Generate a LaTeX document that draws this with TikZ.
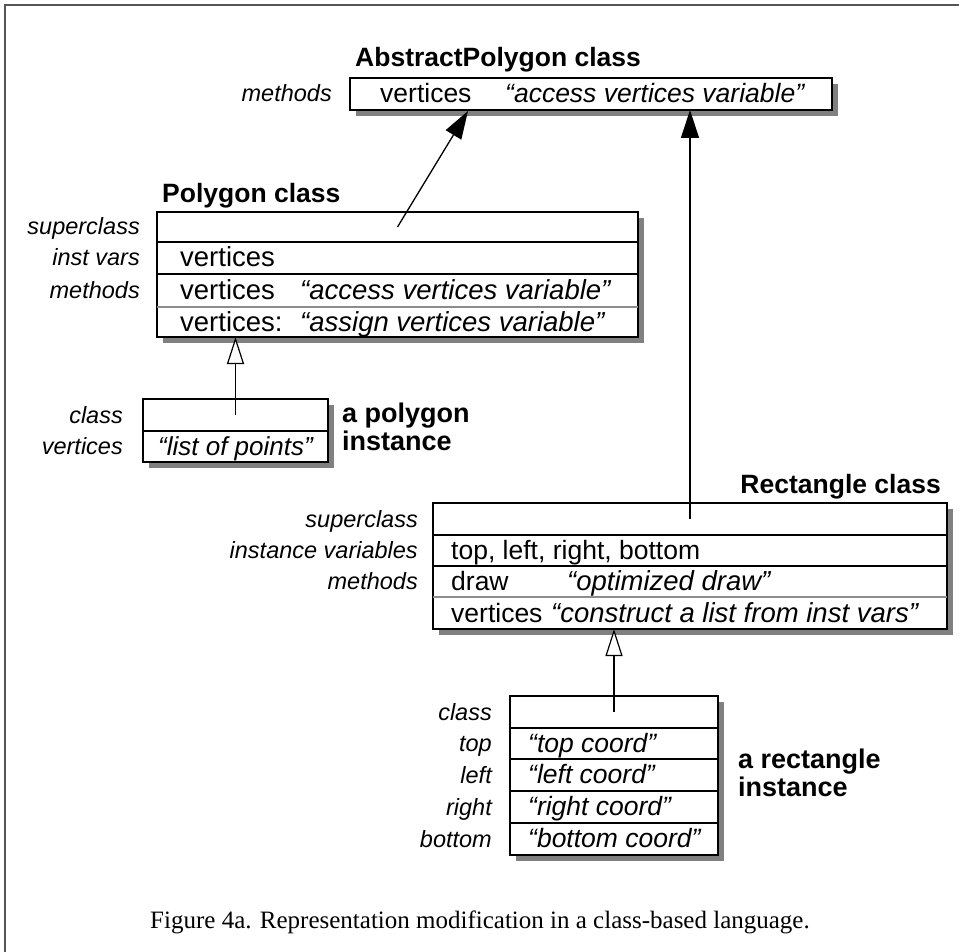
\documentclass[tikz,border=0pt]{standalone}
\usepackage{fontspec}
\setmainfont{Liberation Sans}
\newfontfamily\capfont{Liberation Serif}
\usetikzlibrary{arrows.meta,calc}
\definecolor{shadowgray}{RGB}{128,128,128}
\definecolor{framegray}{RGB}{85,85,85}
\definecolor{sepgray}{RGB}{140,140,140}

\begin{document}
\begin{tikzpicture}[x=1pt,y=-1pt,
  slot/.style={inner sep=0pt, outer sep=0pt, anchor=north west},
  lbl/.style={anchor=base east, inner sep=0pt, font=\fontsize{23.5}{28}\selectfont\itshape},
  cell/.style={anchor=base west, inner sep=0pt, font=\fontsize{#1}{30}\selectfont},
  cell/.default=26.5,
  qtext/.style={anchor=base west, inner sep=0pt, font=\fontsize{#1}{30}\selectfont\itshape},
  qtext/.default=26.5,
  ttl/.style={inner sep=0pt, font=\fontsize{26.5}{32}\selectfont\bfseries},
  itl/.style={inner sep=0pt, anchor=base west, font=\fontsize{27}{32}\selectfont\bfseries},
  boxline/.style={line width=1.5pt, fill=white},
  sepline/.style={line width=1.1pt, sepgray},
  rowline/.style={line width=1.4pt},
  shade/.style={fill=shadowgray},
  isa/.style={line width=1.3pt, -{Triangle[length=28pt,width=18pt]}},
  inst/.style={line width=1.2pt, -{Triangle[open,length=27pt,width=17pt,fill=white]}},
]
\useasboundingbox (0,0) rectangle (959,952);
\fill[white] (0,0) rectangle (959,952);

% open frame: top and left edges only
\draw[framegray, line width=2.5pt] (5,952) -- (5,5) -- (959,5);

% ---------- AbstractPolygon class ----------
\node[ttl, anchor=base west] (absT) at (355,67) {AbstractPolygon class};
\node[slot, minimum width=482pt, minimum height=32pt] (absA) at (350,78) {};
\fill[shade] ($(absA.north west)+(6,6)$) rectangle ($(absA.south east)+(6,6)$);
\draw[boxline] (absA.north west) rectangle (absA.south east);
\node[lbl] (absL) at (332,102) {methods};
\node[cell] (absV) at (380,103) {vertices};
\node[qtext] (absQ) at (505,103) {“access vertices variable”};

% ---------- Polygon class ----------
\node[ttl, anchor=base west] (polyT) at (162,203) {Polygon class};
\node[slot, minimum width=481pt, minimum height=30pt] (polyA) at (157,212) {};
\node[slot, minimum width=481pt, minimum height=32pt] (polyB) at (157,242) {};
\node[slot, minimum width=481pt, minimum height=33pt] (polyC) at (157,274) {};
\node[slot, minimum width=481pt, minimum height=30pt] (polyD) at (157,307) {};
\fill[shade] ($(polyA.north west)+(6,6)$) rectangle ($(polyD.south east)+(6,6)$);
\draw[boxline] (polyA.north west) rectangle (polyD.south east);
\draw[rowline] (polyB.north west) -- (polyB.north east);
\draw[rowline] (polyC.north west) -- (polyC.north east);
\draw[sepline] (polyD.north west) -- (polyD.north east);
\node[lbl] (polyL1) at (140,235) {superclass};
\node[lbl] (polyL2) at (140,266) {inst vars};
\node[lbl] (polyL3) at (140,298.5) {methods};
\node[cell=27.5] (polyV1) at (180,267) {vertices};
\node[cell=27.5] (polyV2) at (180,300) {vertices};
\node[qtext=27.5] (polyQ2) at (300,300) {“access vertices variable”};
\node[cell=27.5] (polyV3) at (180,331) {vertices:};
\node[qtext=27.5] (polyQ3) at (300,331) {“assign vertices variable”};

% ---------- a polygon instance ----------
\node[slot, minimum width=185pt, minimum height=32pt] (piA) at (143,399) {};
\node[slot, minimum width=185pt, minimum height=31pt] (piB) at (143,431) {};
\fill[shade] ($(piA.north west)+(6,6)$) rectangle ($(piB.south east)+(6,6)$);
\draw[boxline] (piA.north west) rectangle (piB.south east);
\draw[rowline] (piB.north west) -- (piB.north east);
\node[lbl] (piL1) at (123,423) {class};
\node[lbl] (piL2) at (123,454.5) {vertices};
\node[qtext=26] (piQ) at (158,455) {“list of points”};
\node[itl] (piT1) at (342,422) {a polygon};
\node[itl] (piT2) at (342,450) {instance};

% ---------- Rectangle class ----------
\node[ttl, anchor=base east] (rectT) at (941,493) {Rectangle class};
\node[slot, minimum width=514pt, minimum height=32pt] (rectA) at (433,503) {};
\node[slot, minimum width=514pt, minimum height=31pt] (rectB) at (433,535) {};
\node[slot, minimum width=514pt, minimum height=31pt] (rectC) at (433,566) {};
\node[slot, minimum width=514pt, minimum height=32pt] (rectD) at (433,597) {};
\fill[shade] ($(rectA.north west)+(6,6)$) rectangle ($(rectD.south east)+(6,6)$);
\draw[boxline] (rectA.north west) rectangle (rectD.south east);
\draw[rowline] (rectB.north west) -- (rectB.north east);
\draw[rowline] (rectC.north west) -- (rectC.north east);
\draw[sepline] (rectD.north west) -- (rectD.north east);
\node[lbl] (rectL1) at (418,527) {superclass};
\node[lbl] (rectL2) at (418,558.5) {instance variables};
\node[lbl] (rectL3) at (418,589.5) {methods};
\node[cell] (rectV1) at (451,559.5) {top, left, right, bottom};
\node[cell] (rectV2) at (451,590.5) {draw};
\node[qtext=27.5] (rectQ2) at (567,590.5) {“optimized draw”};
\node[cell] (rectV3) at (451,622) {vertices};
\node[qtext=27.5] (rectQ3) at (551,622) {“construct a list from inst vars”};

% ---------- a rectangle instance ----------
\node[slot, minimum width=208pt, minimum height=32pt] (riA) at (510,696) {};
\node[slot, minimum width=208pt, minimum height=31pt] (riB) at (510,728) {};
\node[slot, minimum width=208pt, minimum height=32pt] (riC) at (510,759) {};
\node[slot, minimum width=208pt, minimum height=32pt] (riD) at (510,791) {};
\node[slot, minimum width=208pt, minimum height=32pt] (riE) at (510,823) {};
\fill[shade] ($(riA.north west)+(6,6)$) rectangle ($(riE.south east)+(6,6)$);
\draw[boxline] (riA.north west) rectangle (riE.south east);
\foreach \r in {riB,riC,riD,riE} \draw[rowline] (\r.north west) -- (\r.north east);
\node[lbl] (riL1) at (492,720) {class};
\node[lbl] (riL2) at (492,751.5) {top};
\node[lbl] (riL3) at (492,783) {left};
\node[lbl] (riL4) at (492,815) {right};
\node[lbl] (riL5) at (492,847) {bottom};
\node[qtext] (riQ2) at (528,752) {“top coord”};
\node[qtext] (riQ3) at (528,783.5) {“left coord”};
\node[qtext] (riQ4) at (528,815.5) {“right coord”};
\node[qtext] (riQ5) at (528,847.5) {“bottom coord”};
\node[itl] (riT1) at (738,768) {a rectangle};
\node[itl] (riT2) at (738,796) {instance};

% ---------- connectors ----------
\coordinate (abshit) at (468,111);
\draw[isa] (polyA.center) -- (abshit);
\draw[isa] (rectA.center) -- (rectA.center |- absA.south);
\draw[inst] (piA.center) -- (piA.center |- polyD.south);
\draw[inst] (riA.center) -- (riA.center |- rectD.south);

% ---------- caption ----------
\node[anchor=base, inner sep=0pt, font=\capfont\fontsize{25}{30}\selectfont] (caption) at (480,928)
  {Figure 4a. Representation modification in a class-based language.};
\end{tikzpicture}
\end{document}
